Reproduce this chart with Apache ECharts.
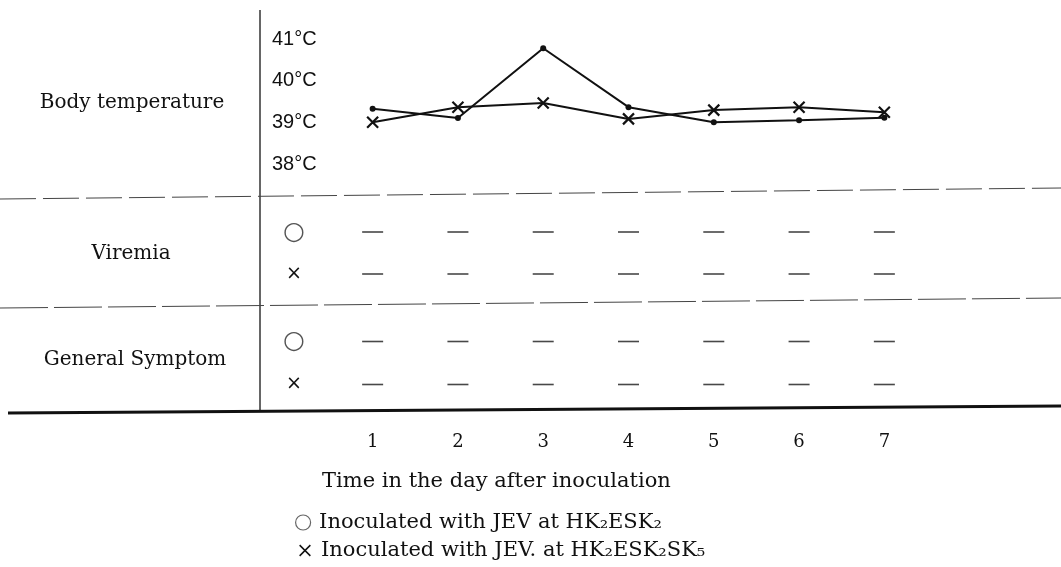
<!DOCTYPE html>
<html>
<head>
<meta charset="utf-8">
<script src="https://cdn.jsdelivr.net/npm/echarts@6/dist/echarts.min.js"></script>
<style>
    html, body { margin: 0; padding: 0; background: #fff; }
    #chart { width: 1061px; height: 567px; }
</style>
</head>
<body>
<div id="chart"></div>
<script>
// days after inoculation
const DAYS = ['1', '2', '3', '4', '5', '6', '7'];

// body temperature, °C
const TEMP_TICKS = [38, 39, 40, 41];
const TEMP_HK2ESK2 = [39.33, 39.11, 40.78, 39.37, 39.01, 39.06, 39.12];
const TEMP_HK2ESK2SK5 = [39.01, 39.37, 39.47, 39.09, 39.30, 39.37, 39.25];

// '-' = negative
const ROW_MARKS = ['○', '×'];
const VIREMIA_HK2ESK2 = ['-', '-', '-', '-', '-', '-', '-'];
const VIREMIA_HK2ESK2SK5 = ['-', '-', '-', '-', '-', '-', '-'];
const SYMPTOM_HK2ESK2 = ['-', '-', '-', '-', '-', '-', '-'];
const SYMPTOM_HK2ESK2SK5 = ['-', '-', '-', '-', '-', '-', '-'];

const NAME_HK2ESK2 = 'Inoculated with JEV at HK₂ESK₂';
const NAME_HK2ESK2SK5 = 'Inoculated with JEV. at HK₂ESK₂SK₅';

const SERIF = 'DejaVu Serif';
const INK = '#111';
const CROSS = 'path://M0,0L10,10M10,0L0,10';

const GRID_LEFT = 330;
const GRID_WIDTH = 597;

function dashSeries(name, values, mark, idx) {
    return {
        name: name,
        type: 'scatter',
        xAxisIndex: idx,
        yAxisIndex: idx,
        symbol: 'rect',
        symbolSize: [21, 1.6],
        itemStyle: {color: '#1a1a1a'},
        silent: true,
        data: DAYS.map((d, i) => values[i] === '-' ? [d, mark] : null).filter(v => v)
    };
}

function markAxis(idx) {
    return {
        gridIndex: idx,
        type: 'category',
        data: ROW_MARKS,
        inverse: true,
        axisLine: {show: false},
        axisTick: {show: false},
        splitLine: {show: false},
        axisLabel: {
            align: 'center',
            margin: 36,
            formatter: v => v === '○' ? '{c|○}' : '{x|×}',
            rich: {
                c: {fontFamily: 'DejaVu Sans', fontSize: 25, color: '#555'},
                x: {fontFamily: 'DejaVu Sans', fontSize: 19, color: INK}
            }
        }
    };
}

function dayAxis(idx, showLabels) {
    return {
        gridIndex: idx,
        type: 'category',
        data: DAYS,
        show: showLabels,
        axisLine: {show: false},
        axisTick: {show: false},
        splitLine: {show: false},
        axisLabel: {
            margin: 27,
            fontFamily: SERIF,
            fontSize: 18,
            color: INK
        }
    };
}

// one legend per row, stacked
function legendRow(name, top, icon, itemStyle) {
    return {
        left: 290,
        top: top,
        itemWidth: 22,
        itemHeight: 15,
        symbolKeepAspect: true,
        selectedMode: false,
        textStyle: {fontFamily: SERIF, fontSize: 21, color: INK},
        data: [{name: name, icon: icon, itemStyle: itemStyle}]
    };
}

let chart = echarts.init(document.getElementById('chart'));

let option = {
    backgroundColor: '#fff',
    animation: false,
    grid: [
        {left: GRID_LEFT, width: GRID_WIDTH, top: 39, height: 125.5},
        {left: GRID_LEFT, width: GRID_WIDTH, top: 211, height: 84},
        {left: GRID_LEFT, width: GRID_WIDTH, top: 320, height: 86}
    ],
    xAxis: [
        dayAxis(0, false),
        dayAxis(1, false),
        dayAxis(2, true)
    ],
    yAxis: [
        {
            gridIndex: 0,
            type: 'value',
            min: TEMP_TICKS[0],
            max: TEMP_TICKS[TEMP_TICKS.length - 1],
            interval: 1,
            axisLine: {show: false},
            axisTick: {show: false},
            splitLine: {show: false},
            axisLabel: {
                align: 'left',
                margin: 58,
                fontFamily: 'Liberation Sans',
                fontSize: 20,
                color: INK,
                formatter: '{value}°C'
            }
        },
        markAxis(1),
        markAxis(2)
    ],
    legend: [
        legendRow(NAME_HK2ESK2, 507, 'circle',
            {color: '#fff', borderColor: '#666', borderWidth: 1.2}),
        legendRow(NAME_HK2ESK2SK5, 535, 'path://M0,0M14,14M2,2L12,12M12,2L2,12',
            {color: 'none', borderColor: INK, borderWidth: 1.5})
    ],
    series: [
        {
            name: NAME_HK2ESK2,
            type: 'line',
            xAxisIndex: 0,
            yAxisIndex: 0,
            data: TEMP_HK2ESK2,
            symbol: 'circle',
            symbolSize: 6,
            lineStyle: {color: '#111', width: 2},
            itemStyle: {color: '#111'}
        },
        {
            name: NAME_HK2ESK2SK5,
            type: 'line',
            xAxisIndex: 0,
            yAxisIndex: 0,
            data: TEMP_HK2ESK2SK5,
            symbol: CROSS,
            symbolSize: 11,
            lineStyle: {color: '#111', width: 2},
            itemStyle: {color: '#111', borderColor: '#111', borderWidth: 2.2}
        },
        dashSeries('viremia ○', VIREMIA_HK2ESK2, '○', 1),
        dashSeries('viremia ×', VIREMIA_HK2ESK2SK5, '×', 1),
        dashSeries('symptom ○', SYMPTOM_HK2ESK2, '○', 2),
        dashSeries('symptom ×', SYMPTOM_HK2ESK2SK5, '×', 2)
    ],
    graphic: [
        // table frame
        {type: 'line', shape: {x1: 260, y1: 10, x2: 260, y2: 412}, style: {stroke: '#333', lineWidth: 1.5}},
        {type: 'line', shape: {x1: 0, y1: 199, x2: 1061, y2: 188}, style: {stroke: '#444', lineWidth: 1, lineDash: [36, 7]}},
        {type: 'line', shape: {x1: 0, y1: 308, x2: 1061, y2: 298}, style: {stroke: '#444', lineWidth: 1, lineDash: [48, 6]}},
        {type: 'line', shape: {x1: 8, y1: 413, x2: 1061, y2: 406}, style: {stroke: '#111', lineWidth: 3}},
        // row titles
        {type: 'text', x: 132, y: 103, style: {text: 'Body temperature', font: '20px "DejaVu Serif"', fill: INK, align: 'center', verticalAlign: 'middle'}},
        {type: 'text', x: 131, y: 254, style: {text: 'Viremia', font: '20px "DejaVu Serif"', fill: INK, align: 'center', verticalAlign: 'middle'}},
        {type: 'text', x: 135, y: 360, style: {text: 'General Symptom', font: '20px "DejaVu Serif"', fill: INK, align: 'center', verticalAlign: 'middle'}},
        // x axis title
        {type: 'text', x: 322, y: 482, style: {text: 'Time in the day after inoculation', font: '21px "DejaVu Serif"', fill: INK, align: 'left', verticalAlign: 'middle'}}
    ]
};

option && chart.setOption(option);
</script>
</body>
</html>
